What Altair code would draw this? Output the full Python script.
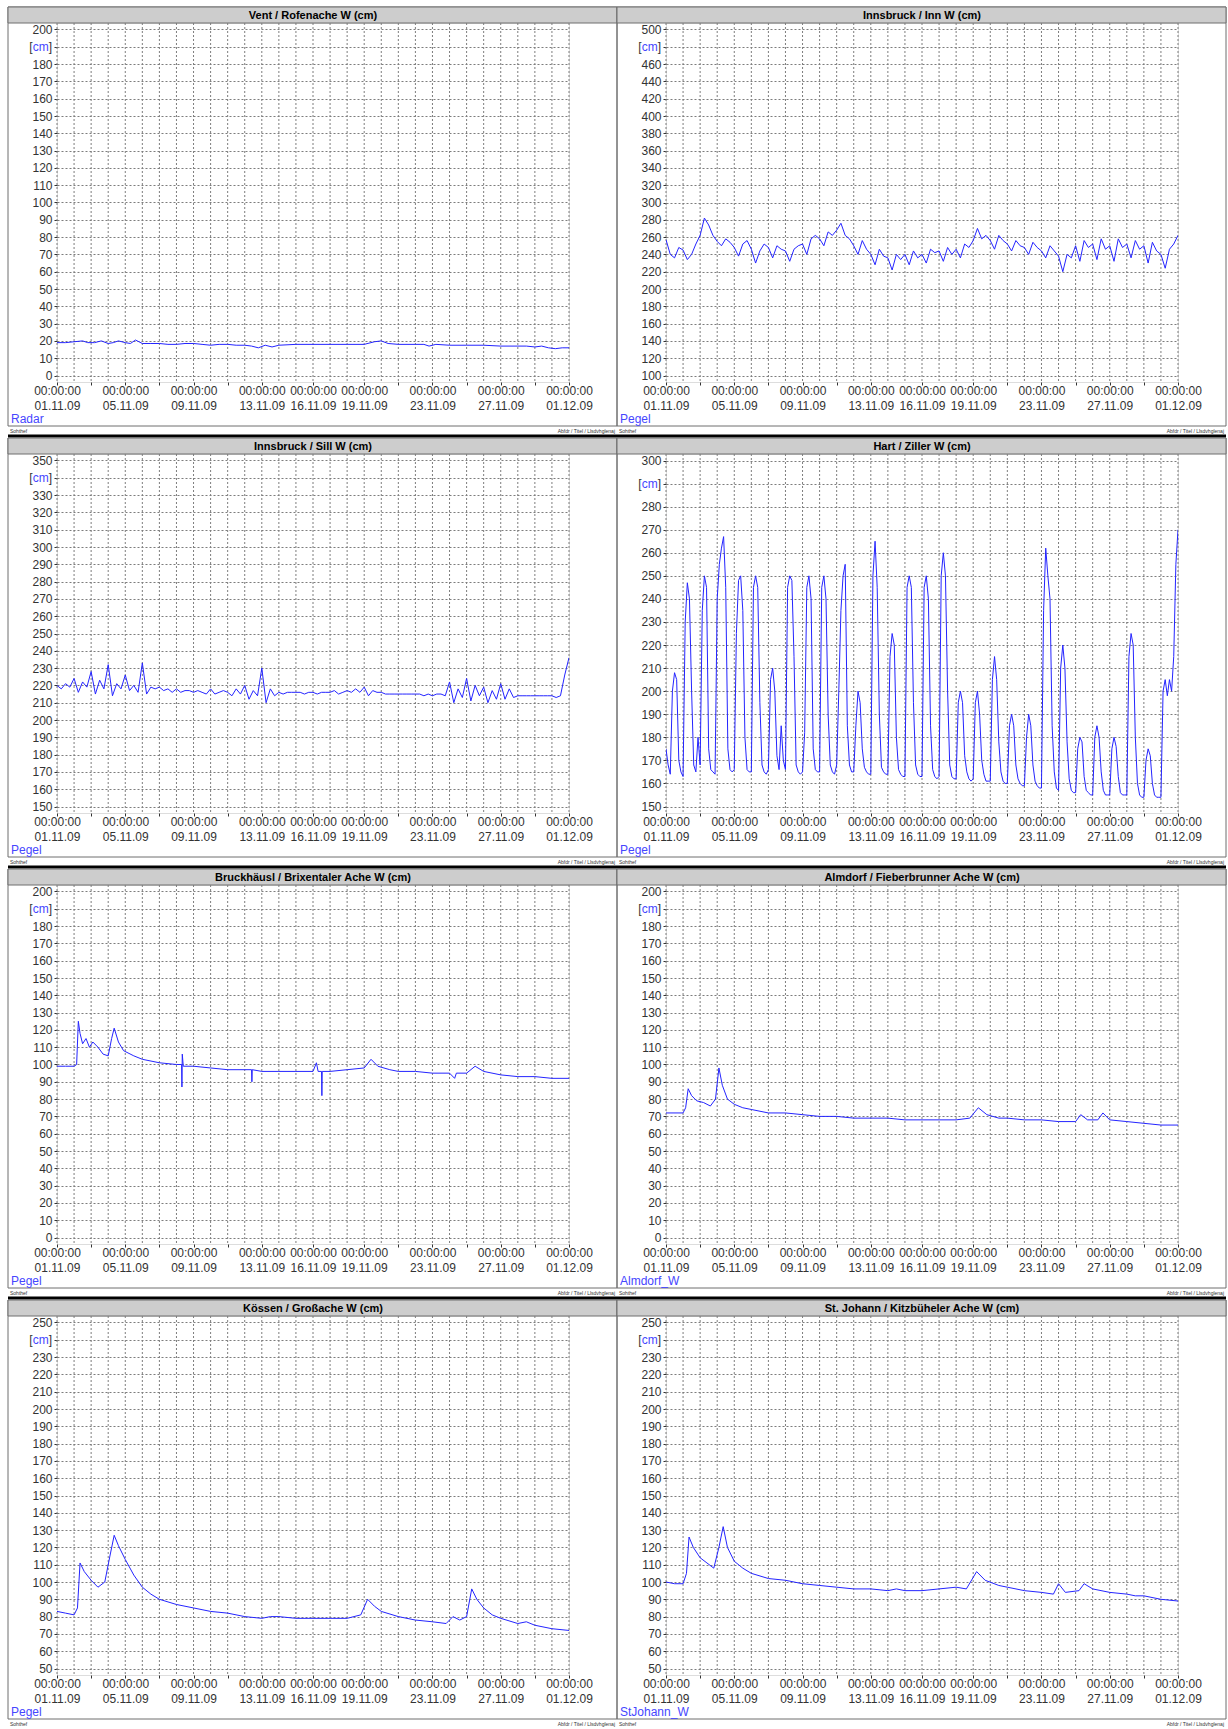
import altair as alt
import pandas as pd

FONT = "Arial, Liberation Sans, sans-serif"
PW, PH = 512, 359
LINE_BLUE = "#2424ff"
SRC_BLUE = "#4646ff"

LABEL_DAYS = [0, 4, 8, 12, 15, 18, 22, 26, 30]
MINOR_DAYS = [2, 6, 10, 20, 24, 28]
GRID_DAYS = list(range(0, 31))

TITLES = [
    "Vent / Rofenache W (cm)",
    "Innsbruck / Inn W (cm)",
    "Innsbruck / Sill W (cm)",
    "Hart / Ziller W (cm)",
    "Bruckhäusl / Brixentaler Ache W (cm)",
    "Almdorf / Fieberbrunner Ache W (cm)",
    "Kössen / Großache W (cm)",
    "St. Johann / Kitzbüheler Ache W (cm)",
]
SOURCES = ["Radar", "Pegel", "Pegel", "Pegel", "Pegel", "Almdorf_W", "Pegel", "StJohann_W"]
Y_MIN = [0, 100, 150, 150, 0, 0, 50, 50]
Y_MAX = [200, 500, 350, 300, 200, 200, 250, 250]
Y_STEP = [10, 20, 10, 10, 10, 10, 10, 10]

# (day offset from 01.11.09 00:00, water level cm)
VENT = [(0, 19), (0.5, 19), (1.0, 19.5), (1.5, 20), (1.8, 19), (2.2, 19), (2.6, 20), (3.0, 18.5),
        (3.3, 19), (3.6, 20), (4.0, 19), (4.3, 18.5), (4.6, 20.5), (5.0, 18.5), (5.5, 18.5),
        (6.0, 18.5), (6.5, 18), (7.0, 18), (7.5, 18.5), (8.0, 18.5), (8.5, 18), (9.0, 17.5),
        (9.5, 18), (10.0, 18), (10.5, 17.5), (11.0, 17.5), (11.4, 17), (11.8, 16), (12.2, 17.5),
        (12.6, 16.5), (13.0, 17.5), (14.0, 18), (15.0, 18), (16.0, 18), (17.0, 18), (18.0, 18),
        (18.6, 19.5), (19.0, 20), (19.4, 18.5), (20.0, 18), (21.0, 18), (21.5, 18), (21.8, 17),
        (22.2, 18), (23.0, 17.5), (24.0, 17.5), (25.0, 17.5), (26.0, 17), (27.0, 17), (27.5, 17),
        (28.0, 16.5), (28.4, 17), (28.8, 16), (29.2, 15.5), (29.6, 16), (30.0, 16)]

INN_6H = [257, 240, 236, 248, 245, 234, 240, 252, 262, 282, 274, 262, 255, 250, 258, 254,
          248, 238, 252, 256, 246, 230, 244, 252, 248, 236, 250, 246, 244, 232, 246, 250,
          252, 240, 258, 262, 258, 250, 266, 262, 268, 276, 262, 258, 250, 240, 256, 246,
          240, 228, 246, 238, 236, 222, 240, 234, 240, 228, 244, 236, 240, 230, 246, 242,
          244, 232, 248, 240, 246, 236, 252, 248, 256, 270, 258, 262, 256, 246, 262, 256,
          252, 244, 256, 250, 248, 240, 254, 248, 244, 236, 250, 244, 238, 220, 240, 236,
          250, 232, 256, 248, 252, 234, 258, 246, 250, 232, 258, 248, 252, 236, 256, 246,
          250, 230, 254, 244, 240, 224, 246, 252, 262]

SILL_6H = [220, 218, 221, 219, 224, 216, 222, 219, 228, 215, 223, 218, 232, 214, 221, 218,
           226, 217, 220, 216, 233, 215, 219, 218, 219, 217, 218, 216, 218, 216, 217, 217,
           216, 217, 216, 215, 218, 215, 216, 217, 216, 214, 218, 215, 220, 212, 217, 214,
           230, 210, 218, 214, 216, 215, 216, 216, 216, 216, 215, 216, 216, 215, 216, 216,
           216, 217, 215, 216, 217, 216, 218, 216, 219, 214, 217, 216, 216, 215, 215, 215,
           215, 215, 215, 215, 215, 215, 214, 215, 214, 215, 215, 214, 222, 210, 218, 213,
           224, 211, 220, 214, 219, 210, 217, 212, 221, 212, 218, 213, 214, 214, 214, 214,
           214, 214, 214, 214, 214, 213, 214, 226, 236]

ZILLER_3H = [175, 168, 164, 200, 208, 205, 170, 165,
             163, 230, 247, 240, 200, 168, 165, 180,
             168, 235, 250, 245, 175, 166, 165, 164,
             240, 255, 262, 267, 245, 175, 166, 165,
             166, 225, 248, 250, 235, 180, 166, 165,
             165, 245, 250, 245, 195, 168, 165, 164,
             166, 205, 210, 200, 172, 166, 185, 170,
             166, 245, 250, 248, 215, 168, 165, 164,
             165, 182, 245, 250, 240, 175, 166, 165,
             165, 245, 250, 240, 190, 168, 165, 164,
             168, 200, 235, 250, 255, 185, 168, 165,
             165, 185, 200, 195, 175, 167, 165, 164,
             164, 250, 265, 245, 190, 167, 165, 164,
             164, 215, 225, 220, 180, 166, 164, 163,
             163, 245, 250, 245, 195, 168, 164, 163,
             163, 245, 250, 240, 185, 166, 163, 162,
             163, 250, 260, 250, 200, 168, 163, 162,
             162, 195, 200, 195, 172, 165, 162, 161,
             162, 195, 200, 190, 170, 164, 161, 161,
             161, 205, 215, 205, 178, 165, 161, 160,
             160, 185, 190, 185, 168, 162, 160, 159,
             159, 180, 190, 185, 168, 161, 159, 158,
             158, 235, 262, 250, 240, 185, 165, 158,
             157, 210, 220, 210, 178, 162, 157, 156,
             156, 175, 180, 178, 163, 157, 156, 155,
             155, 180, 185, 180, 165, 157, 155, 155,
             155, 175, 180, 176, 163, 156, 155, 155,
             155, 215, 225, 220, 180, 160, 155, 154,
             154, 170, 175, 172, 160, 155, 154, 154,
             154, 200, 205, 198, 205, 200, 215, 255,
             270]

BRIXEN = [(0, 99), (0.5, 99), (1.0, 99), (1.15, 100), (1.25, 125), (1.35, 118), (1.5, 112),
          (1.7, 115), (1.9, 110), (2.1, 113), (2.4, 110), (2.7, 106), (3.0, 105), (3.2, 115),
          (3.35, 121), (3.6, 113), (3.9, 108), (4.5, 105), (5.0, 103), (6.0, 101), (7.0, 100),
          (7.3, 100), (7.32, 87), (7.34, 106), (7.4, 99), (8, 99), (9, 98), (10, 97), (11, 97),
          (11.4, 97), (11.42, 90), (11.44, 97), (12, 96), (13, 96), (14, 96), (15, 96),
          (15.2, 101), (15.3, 96), (15.5, 96), (15.52, 82), (15.54, 96), (16, 96), (17, 97),
          (18, 98), (18.4, 103), (18.8, 99), (19.5, 97), (20, 96), (21, 96), (22, 95), (23, 95),
          (23.3, 92), (23.4, 95), (24, 95), (24.5, 99), (25, 96), (26, 94), (27, 93), (28, 93),
          (29, 92), (30, 92)]

ALMDORF = [(0, 72), (1.0, 72), (1.15, 75), (1.3, 86), (1.5, 82), (1.8, 79), (2.2, 78),
           (2.6, 76), (2.9, 80), (3.1, 98), (3.3, 88), (3.6, 80), (4.0, 77), (4.5, 75), (5, 74),
           (6, 72), (7, 72), (8, 71), (9, 70), (10, 70), (11, 69), (12, 69), (13, 69), (14, 68),
           (15, 68), (16, 68), (17, 68), (17.8, 69), (18.3, 75), (18.8, 71), (19.5, 69),
           (20, 69), (21, 68), (22, 68), (23, 67), (24, 67), (24.3, 71), (24.7, 68),
           (25.3, 68), (25.6, 72), (26, 68), (27, 67), (28, 66), (29, 65), (30, 65)]

KOSSEN = [(0, 83), (0.5, 82), (1.0, 81), (1.2, 85), (1.35, 111), (1.6, 106), (2.0, 101),
          (2.4, 97), (2.8, 100), (3.1, 115), (3.35, 127), (3.6, 121), (4.0, 113), (4.5, 104),
          (5, 97), (5.5, 93), (6, 90), (7, 87), (8, 85), (9, 83), (10, 82), (11, 80), (12, 79),
          (12.5, 80), (13, 80), (14, 79), (15, 79), (16, 79), (17, 79), (17.8, 81), (18.2, 90),
          (18.6, 86), (19, 83), (20, 80), (21, 78), (22, 77), (22.8, 76), (23.2, 80),
          (23.6, 78), (24.0, 80), (24.3, 96), (24.6, 90), (25, 85), (25.5, 81), (26, 79),
          (27, 76), (27.5, 77), (28, 75), (29, 73), (30, 72)]

STJOHANN = [(0, 100), (0.5, 99), (1.0, 99), (1.2, 105), (1.35, 126), (1.6, 120), (2.0, 114),
            (2.4, 111), (2.8, 108), (3.1, 120), (3.35, 132), (3.6, 120), (4.0, 112),
            (4.5, 108), (5, 105), (6, 102), (7, 101), (8, 99), (9, 98), (10, 97), (11, 96),
            (12, 96), (13, 95), (13.5, 96), (14, 95), (15, 95), (16, 96), (17, 97),
            (17.6, 96), (18.2, 106), (18.7, 101), (19.5, 98), (20, 97), (21, 95), (22, 94),
            (22.7, 93), (23.0, 99), (23.4, 94), (24.2, 95), (24.5, 99), (25, 96), (26, 94),
            (27, 93), (27.5, 92), (28, 92), (29, 90), (30, 89)]


def from_pairs(pairs):
    return pd.DataFrame({"t": [p[0] for p in pairs], "w": [p[1] for p in pairs]})


def from_regular(values, step_hours):
    return pd.DataFrame({"t": [i * step_hours / 24 for i in range(len(values))], "w": values})


SERIES = [
    from_pairs(VENT),
    from_regular(INN_6H, 6),
    from_regular(SILL_6H, 6),
    from_regular(ZILLER_3H, 3),
    from_pairs(BRIXEN),
    from_pairs(ALMDORF),
    from_pairs(KOSSEN),
    from_pairs(STJOHANN),
]

X_LABEL_EXPR = (
    "indexof(" + str(LABEL_DAYS) + ", datum.value) >= 0 ? "
    "['00:00:00', timeFormat(datetime(2009, 10, 1 + datum.value), '%d.%m.%y')] : ''"
)


def make_panel(i):
    ymin, ymax, step = Y_MIN[i], Y_MAX[i], Y_STEP[i]
    pad = (ymax - ymin) * 6.5 / 346
    ticks = list(range(ymin, ymax + 1, step))
    cm_val = ymax - step
    yscale = alt.Scale(domain=[ymin - pad, ymax + pad], nice=False, zero=False)
    xscale = alt.Scale(domain=[0, 30], nice=False, zero=False)
    xaxis = alt.Axis(
        values=sorted(LABEL_DAYS + MINOR_DAYS), labelExpr=X_LABEL_EXPR, title=None,
        grid=False, domain=False, tickSize=3, tickColor="#333333", labelPadding=0,
        labelFontSize=12, labelLineHeight=15, labelColor="#333333", labelOverlap=False,
        labelFlush=False, labelFont=FONT,
    )
    yaxis = alt.Axis(
        values=ticks, format="d", title=None, grid=True, gridDash=[2, 2],
        gridColor="#7d7d7d", gridWidth=1, domain=False, tickSize=3, tickColor="#333333",
        labelPadding=2, labelFontSize=12, labelColor="#333333", labelFont=FONT,
        labelExpr="datum.value == " + str(cm_val) + " ? '' : datum.label",
        labelOverlap=False,
    )
    one = alt.Chart(pd.DataFrame({"k": [0]}))
    layers = []
    if i >= 2:
        layers.append(one.mark_rule(color="#000000", strokeWidth=3).encode(
            x=alt.value(-49), x2=alt.value(560), y=alt.value(-18)))
    layers.append(one.mark_rect(fillOpacity=0, stroke="#6e6e6e", strokeWidth=1).encode(
        x=alt.value(-49), x2=alt.value(560), y=alt.value(-16), y2=alt.value(403)))
    layers.append(one.mark_rect(fill="#cdcdcd", stroke="#6e6e6e", strokeWidth=1).encode(
        x=alt.value(-49), x2=alt.value(560), y=alt.value(-16), y2=alt.value(0)))
    layers.append(one.mark_text(font=FONT, fontSize=11, fontWeight="bold", color="#000000",
                                align="center", baseline="middle").encode(
        x=alt.value(256), y=alt.value(-7.5), text=alt.value(TITLES[i])))
    grid_df = pd.DataFrame({"t": GRID_DAYS})
    layers.append(alt.Chart(grid_df).mark_rule(strokeDash=[2, 2], color="#7d7d7d",
                                               strokeWidth=1).encode(
        x=alt.X("t:Q", scale=xscale, axis=xaxis)))
    layers.append(alt.Chart(SERIES[i]).mark_line(color=LINE_BLUE, strokeWidth=1, clip=True).encode(
        x=alt.X("t:Q", scale=xscale, axis=xaxis),
        y=alt.Y("w:Q", scale=yscale, axis=yaxis)))
    cm_df = pd.DataFrame({"w": [cm_val]})
    for txt, xr, col in [("]", -5, "#333333"), ("cm", -8.3, SRC_BLUE), ("[", -24.3, "#333333")]:
        layers.append(alt.Chart(cm_df).mark_text(font=FONT, fontSize=12, color=col, align="right",
                                                 baseline="middle").encode(
            x=alt.value(xr), y=alt.Y("w:Q", scale=yscale, axis=yaxis), text=alt.value(txt)))
    layers.append(one.mark_text(font=FONT, fontSize=12, color=SRC_BLUE, align="left",
                                baseline="middle").encode(
        x=alt.value(-46), y=alt.value(396), text=alt.value(SOURCES[i])))
    layers.append(one.mark_text(font=FONT, fontSize=5, color="#333333", align="left",
                                baseline="middle").encode(
        x=alt.value(-47), y=alt.value(408), text=alt.value("Sohthef")))
    layers.append(one.mark_text(font=FONT, fontSize=5, color="#333333", align="right",
                                baseline="middle").encode(
        x=alt.value(558), y=alt.value(408), text=alt.value("Abfdr / Titel / Llsdvhglenaj")))
    return alt.layer(*layers).properties(width=PW, height=PH)


panels = [make_panel(i) for i in range(8)]

chart = alt.concat(
    *panels, columns=2, spacing={"row": 72, "column": 97}, bounds="flush"
).properties(
    padding={"left": 6, "top": 6, "right": 0, "bottom": 0},
    background="white",
).configure_view(
    stroke="#404040", strokeWidth=1
).configure(font=FONT)

chart.save("out.html", embed_options={"renderer": "svg", "actions": False})
